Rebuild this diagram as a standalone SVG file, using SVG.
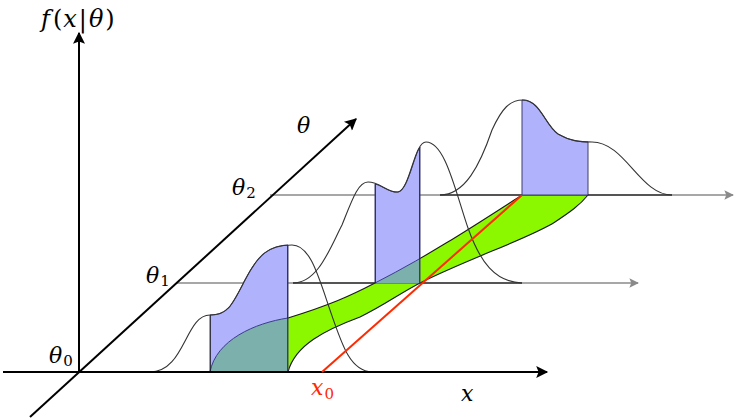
<svg xmlns="http://www.w3.org/2000/svg" width="747" height="420" viewBox="0 0 747 420">
<style>
.ax{stroke:#000;stroke-width:2;fill:none}
.gl{stroke:#8a8a8a;stroke-width:1.6;fill:none}
.base{stroke:#3a3a3a;stroke-width:1.5;fill:none}
.crv{stroke:#333;stroke-width:1.1;fill:none}
.blue{fill:#b0b2fb;stroke:#3c3c6e;stroke-width:1}
.band{fill:#8cf800;stroke:#1a1a1a;stroke-width:1.1}
.teal{fill:#7bb0ad}
text{font-family:'DejaVu Serif',serif;font-size:22px;fill:#000}
.i{font-style:italic}
.s{font-size:15px;font-style:normal}
</style>
<defs>
<marker id="ah" viewBox="0 0 10 10" refX="9" refY="5" markerWidth="7" markerHeight="6" markerUnits="strokeWidth" orient="auto"><path d="M0,0 L10,5 L0,10 L2,5 Z" fill="#000"/></marker>
<marker id="gh" viewBox="0 0 10 10" refX="9" refY="5" markerWidth="7" markerHeight="6" markerUnits="strokeWidth" orient="auto"><path d="M0,0 L10,5 L0,10 L2,5 Z" fill="#8a8a8a"/></marker>
<clipPath id="bclip">
<path d="M210,372 L210,315 C228,315 232,305 245,280 C256,259 266,246 288,245 L288,372 Z"/>
<path d="M375,283 L375,184 C383,186 390,193 398,192 C408,190 414,155 420,147 L420,283 Z"/>
</clipPath>
</defs>
<g id="levels">
<line class="gl" x1="176" y1="283" x2="638" y2="283" marker-end="url(#gh)"/>
<line class="gl" x1="270" y1="195" x2="733" y2="195" marker-end="url(#gh)"/>
<line class="base" x1="293" y1="283" x2="522" y2="283"/>
<line class="base" x1="440" y1="195" x2="672" y2="195"/>
</g>
<g id="band">
<path class="band" d="M210,372 C216,340 255,323 288,318 C330,305 350,296 375,283 C430,255 480,222 522,195 L588,195 C580,205 570,212 555,222 C530,238 470,258 422,282 C400,293 385,305 360,317 C325,330 295,345 288,372 Z"/>
</g>
<g id="region0">
<path class="blue" d="M210,372 L210,315 C228,315 232,305 245,280 C256,259 266,246 288,245 L288,372 Z"/>
</g>
<g id="region1">
<path class="blue" d="M375,283 L375,184 C383,186 390,193 398,192 C408,190 414,155 420,147 L420,283 Z"/>
</g>
<g id="region2">
<path class="blue" d="M522,195 L522,100 C540,100 545,125 558,134 C570,141 580,142 588,142 L588,195 Z"/>
</g>
<g id="overlap" clip-path="url(#bclip)">
<path class="teal" d="M210,372 C216,340 255,323 288,318 C330,305 350,296 375,283 C430,255 480,222 522,195 L588,195 C580,205 570,212 555,222 C530,238 470,258 422,282 C400,293 385,305 360,317 C325,330 295,345 288,372 Z"/>
<path d="M210,372 C216,340 255,323 288,318 C330,305 350,296 375,283 C430,255 480,222 522,195" fill="none" stroke="#3c3c8e" stroke-width="1"/>
<path d="M210,372 L210,315 M288,245 L288,372 M375,283 L375,184 M420,147 L420,283" stroke="#1a1a1a" stroke-width="1.4"/>
</g>
<g id="curves">
<path class="crv" d="M150,372 C185,372 185,315 210,315 C228,315 232,305 245,280 C258,255 268,245 292,245 C310,245 318,275 330,310 C342,345 350,371 372,372"/>
<path class="crv" d="M293,283 C318,283 330,248 342,225 C352,200 358,182 368,182 C380,182 388,193 398,192 C410,190 414,142 426,142 C445,142 455,190 468,228 C480,262 495,282 522,283"/>
<path class="crv" d="M440,195 C465,195 480,165 492,130 C502,108 510,100 523,100 C540,100 545,125 558,134 C570,141 580,142 592,142 C625,142 640,195 672,195"/>
</g>
<g id="connectors">
<line class="ax" x1="79" y1="372" x2="79" y2="33" marker-end="url(#ah)"/>
<line class="ax" x1="3" y1="372" x2="547" y2="372" marker-end="url(#ah)"/>
<line class="ax" x1="30" y1="417" x2="356" y2="119" marker-end="url(#ah)"/>
<line x1="322" y1="372" x2="522" y2="195" stroke="#ff2a00" stroke-width="2"/>
</g>
<g id="labels">
<text x="41" y="27" style="font-size:24px"><tspan class="i">f</tspan><tspan dx="3">(</tspan><tspan class="i" dx="1">x</tspan><tspan dx="2">|</tspan><tspan class="i" dx="2">θ</tspan><tspan dx="2">)</tspan></text>
<text class="i" x="297" y="133">θ</text>
<text x="232" y="195"><tspan class="i">θ</tspan><tspan class="s" dx="1" dy="3">2</tspan></text>
<text x="146" y="283"><tspan class="i">θ</tspan><tspan class="s" dx="1" dy="3">1</tspan></text>
<text x="49" y="363"><tspan class="i">θ</tspan><tspan class="s" dx="1" dy="3">0</tspan></text>
<text x="311" y="395" style="fill:#ff2a00"><tspan class="i">x</tspan><tspan class="s" dx="1" dy="4">0</tspan></text>
<text class="i" x="461" y="401">x</text>
</g>
</svg>
